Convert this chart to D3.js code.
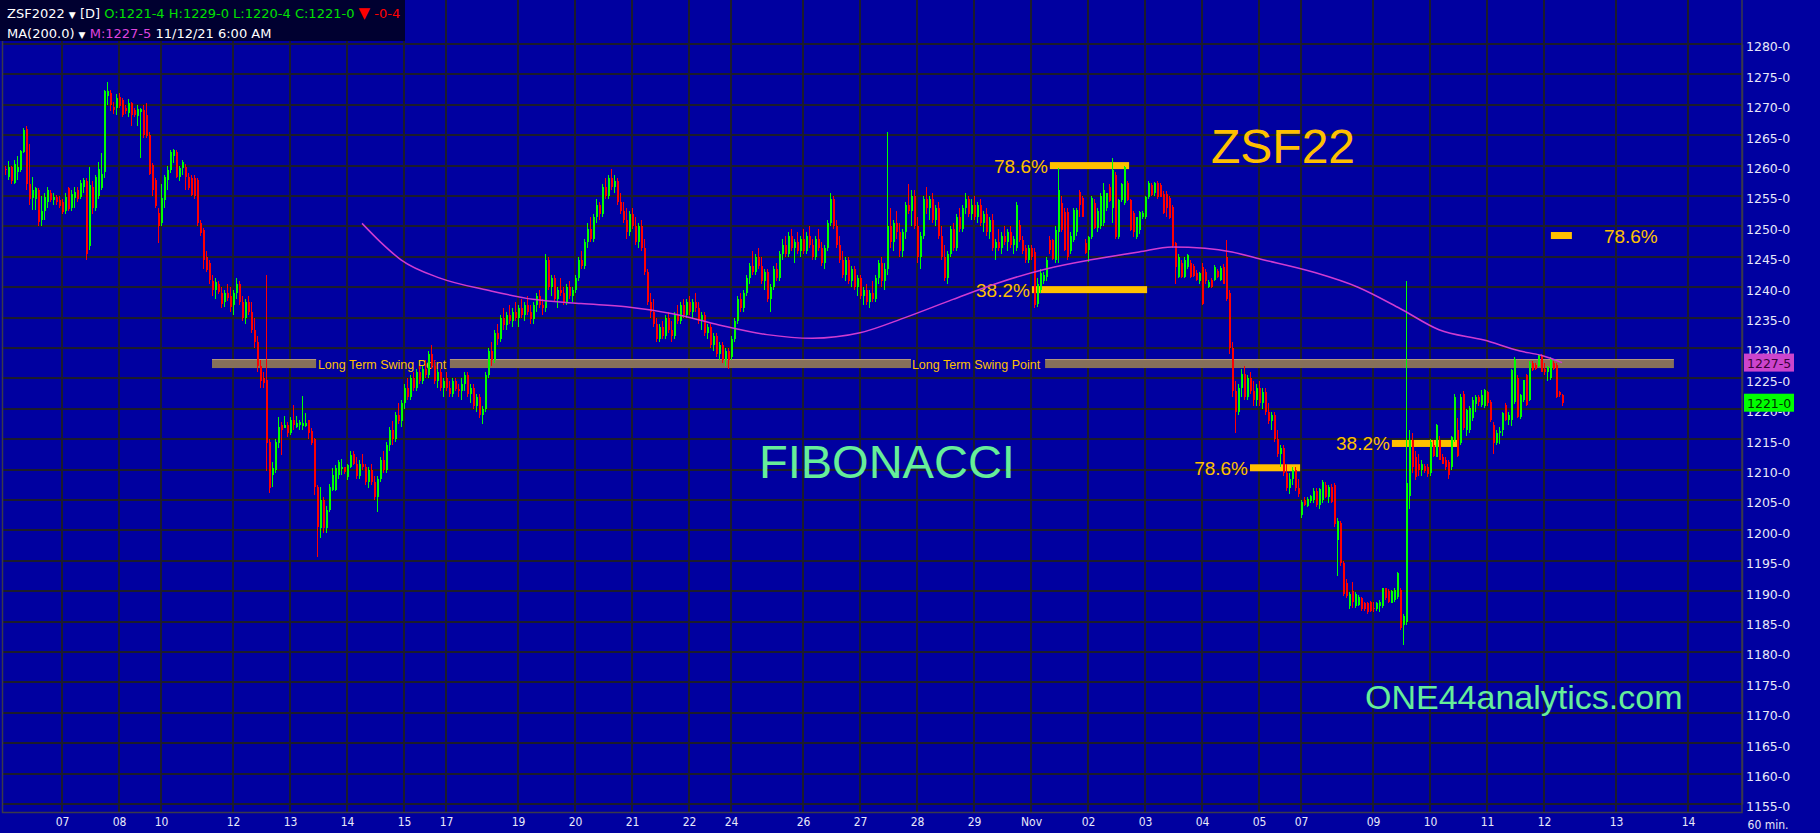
<!DOCTYPE html>
<html>
<head>
<meta charset="utf-8">
<script src="https://cdn.jsdelivr.net/npm/d3@7"></script>
<style>
  html, body { margin: 0; padding: 0; background: #0000a0; }
  svg { display: block; }
</style>
</head>
<body>
<svg id="chart" width="1820" height="833"></svg>
<script>
// hourly bars, [open, high, low, close] in cents, one array per session day
const oct06 = [[1259.5,1260,1258.5,1259.2],[1258.2,1260.8,1257.6,1259.7],[1259.7,1260,1257,1257.4],[1257.2,1261,1257,1260.3],[1259,1261.5,1257.6,1259.7],[1259.3,1262.6,1259,1262.4],[1262.3,1266.2,1262,1265.9],[1266,1266.5,1256,1257],[1257,1263.5,1253.5,1254.5],[1254.6,1258.2,1252.7,1256],[1254.5,1256.5,1252.7,1256.3],[1256,1256.3,1250,1250.8],[1251,1255,1250,1252.5],[1252.5,1255.5,1251,1254.8],[1254,1256.5,1253,1256],[1255.5,1256,1254,1254.4],[1254.4,1255.5,1253.5,1254.8],[1254.8,1255.2,1253.5,1254],[1254.4,1255,1253,1253.4]];
const oct07 = [[1254,1254.5,1252,1252.4],[1252.6,1255.5,1252,1254.9],[1256.3,1256.5,1252.5,1252.8],[1253,1256,1252.5,1255.4],[1254.6,1256.5,1253,1255.7],[1256,1256.5,1254,1254.5],[1254.9,1257.6,1254.5,1257.2],[1256.5,1258,1255.5,1257.6],[1257.4,1258,1244.5,1245.5],[1246.7,1259.8,1246.1,1256.8],[1256.5,1257.5,1252,1253],[1253,1258.5,1252.5,1258.2],[1255,1260.6,1254.5,1259.5],[1256.3,1262,1256,1258.7],[1259,1272.5,1258,1272.2],[1271.5,1273.8,1270,1272.2],[1272,1272.5,1269,1270],[1269.7,1270.5,1268.5,1269.2],[1269.4,1271.8,1268.4,1271.1]];
const oct08 = [[1271.3,1272,1269.5,1269.8],[1270.8,1271.2,1268,1268.3],[1269.5,1270,1268.5,1268.9],[1268.6,1271,1268,1270.3],[1270.3,1270.5,1266.5,1268.3],[1269.1,1269.5,1268,1268.3],[1268.2,1270,1266.5,1269.3],[1268.8,1269.5,1261.2,1269.3],[1269.2,1270,1264.5,1265],[1268.3,1270.3,1264.5,1264.8],[1265,1265.5,1258.5,1258.7],[1260.1,1260.5,1255,1256],[1257.6,1258,1253,1253.3],[1252.2,1253,1247.2,1250]];
const oct10 = [[1250.5,1257,1250,1254.6],[1254.4,1258.5,1253,1258.2],[1257.6,1260,1256,1259.3],[1259.3,1262.5,1258.8,1262.3],[1261.5,1262.8,1260.5,1262.5]];
const oct11 = [[1262.3,1262.5,1258,1258.2],[1258.2,1260,1257.5,1259.6],[1259.6,1261,1258.5,1260.6],[1259.8,1260.2,1256,1258.2],[1258.2,1258.8,1256,1256.3],[1258,1258.5,1255,1255.2],[1258,1258.5,1254.5,1255],[1257.6,1258,1250,1250.5],[1250.5,1251,1248.5,1248.9],[1249.4,1249.8,1243,1244.5],[1245,1246,1242.5,1242.8],[1243.9,1244.5,1240.5,1241.2],[1241,1242,1238.5,1239.5],[1239.5,1241.5,1238,1240.8],[1240.5,1241,1238.8,1239.2],[1239,1240,1236.5,1237.2],[1237.5,1239.5,1236.8,1239],[1239,1240.5,1237.8,1238.2],[1238.5,1240,1236,1236.8]];
const oct12 = [[1237,1239.5,1235.5,1239],[1239,1241.5,1238,1240.5],[1240.5,1241,1237,1237.5],[1237.5,1238.5,1234.5,1235],[1235,1238,1234,1237.5],[1237.5,1238.5,1235.5,1236],[1236,1237.5,1232.5,1233],[1233,1235,1230,1231],[1231,1232,1226,1227],[1227,1228,1223.5,1224.5],[1225,1226,1223.5,1224.2],[1224.7,1242,1209.7,1214.3],[1214.6,1215,1206.1,1207],[1209.1,1211.3,1207.2,1210.2],[1209.9,1215,1209.5,1214.6],[1214.3,1218.7,1213.5,1217],[1217.3,1217.9,1212.4,1216.5],[1216.8,1218.8,1216.8,1217.3],[1217.3,1217.9,1215.4,1216]];
const oct13 = [[1216,1218.6,1215.7,1218.2],[1218.2,1220.6,1216.5,1217.3],[1217,1218.8,1216.8,1217.6],[1217.3,1218.2,1216.5,1217.8],[1217.2,1222.1,1216.5,1217.6],[1217.2,1219.3,1217,1217.6],[1218.2,1218.2,1215,1216],[1216.3,1216.8,1214,1214.4],[1215.1,1215.2,1205.8,1207.2],[1207.2,1207.5,1195.7,1200.6],[1200.4,1207.2,1198.7,1205],[1205,1205.5,1199.5,1200.4],[1200.4,1204,1199.5,1203.4],[1203.4,1207.7,1203,1207.2],[1206.6,1210.2,1206.5,1209.1],[1206.6,1210.8,1206.4,1210.2],[1209.1,1211.5,1208.5,1211.3],[1210.2,1211.8,1209.1,1210.4],[1210.4,1210.5,1209.3,1209.6]];
const oct14 = [[1208.8,1211,1208.3,1210.8],[1210.5,1213,1210.2,1212.4],[1212.6,1213,1210.8,1211],[1211,1212,1208.5,1209],[1209,1211.5,1208.5,1211],[1211,1212.5,1210,1210.5],[1210.5,1211,1207.5,1208],[1208,1210.5,1207,1210],[1210,1211,1207.5,1208],[1208,1209,1205,1205.5],[1205.5,1209,1203,1208.5],[1208.5,1212,1208,1211.5],[1211.5,1213,1209.5,1210],[1210,1214.5,1209.5,1214],[1214,1217,1213,1216.5],[1216.5,1218,1214,1215],[1215,1219.5,1214.5,1219],[1219,1221,1217.5,1218],[1218,1221.5,1217,1221]];
const oct15 = [[1221,1224,1220,1223.5],[1223.5,1225,1221.5,1222],[1222,1225.5,1221.5,1225],[1225,1226,1223,1223.5],[1223.5,1226.5,1223,1226],[1226,1227,1224,1224.5],[1224.5,1227,1224,1226.5],[1226.5,1228,1225,1225.5],[1225.5,1229.5,1225,1229],[1229,1230.5,1226.5,1227],[1227,1228,1224,1224.5],[1224.5,1226.5,1223.5,1226],[1226,1226.5,1223,1223.5],[1223.5,1225,1222,1224.5]];
const oct17 = [[1225,1226,1223,1223.5],[1223.5,1224.5,1222,1222.5],[1222.5,1225,1222,1224.5],[1224.5,1225,1223,1223.2],[1223.2,1224,1222,1223]];
const oct18 = [[1223,1225,1221.5,1224],[1224,1226,1223,1225.5],[1225.5,1226,1222,1222.5],[1222.5,1224,1221,1223.5],[1223.5,1224,1220,1220.5],[1220.5,1222.5,1219.5,1222],[1222,1222.5,1218.5,1219],[1219,1220.5,1217.5,1220],[1220,1226,1219.5,1225.5],[1225.5,1230,1225,1229.5],[1229.5,1231,1227,1228],[1228,1233,1227.5,1232.5],[1232.5,1234,1230.5,1231.5],[1231.5,1235.5,1231,1235],[1235,1236.5,1233,1233.8],[1233.8,1236,1233,1235.5],[1235.5,1237,1234,1234.5],[1234.5,1236.5,1233.5,1236],[1236,1237.5,1234.5,1235]];
const oct19 = [[1235,1237,1233.5,1236.5],[1236.5,1238,1235,1235.5],[1235.5,1237.5,1234.5,1237],[1237,1238.5,1235.5,1236],[1236,1237,1234,1234.8],[1234.8,1237.5,1234,1237],[1237,1239,1236,1238.5],[1238.5,1239.5,1236.5,1237],[1237,1238,1235.5,1236.5],[1236.5,1245.5,1236,1244.5],[1244.5,1245,1239.5,1240],[1240,1242,1238.5,1241.5],[1241.5,1242,1237.5,1238],[1238,1240,1236.5,1239.5],[1239.5,1241.5,1238.5,1239],[1239,1240,1237,1237.5],[1237.5,1240.5,1237,1240],[1240,1241,1238,1238.5],[1238.5,1240,1237.5,1239.5]];
const oct20 = [[1239.5,1242,1239,1241.5],[1241.5,1245,1241,1244.5],[1244.5,1246,1243,1243.5],[1243.5,1248,1243,1247.5],[1247.5,1250.5,1246.5,1249.5],[1249.5,1251.5,1247.5,1248],[1248,1252,1247.5,1251.5],[1251.5,1254.5,1250.5,1253.5],[1253.5,1254,1251,1252],[1252,1257,1251.5,1256.5],[1256.5,1258,1254.5,1255],[1255,1258.5,1254.5,1258],[1258,1259.5,1256,1256.5],[1256.5,1258.5,1255.5,1257.5],[1257.5,1258,1253.5,1254],[1254,1255.5,1252,1252.5],[1252.5,1254,1250.5,1251],[1251,1253,1248,1249],[1249,1252.5,1248.5,1252]];
const oct21 = [[1252,1253,1249.5,1250],[1250,1251.5,1247,1247.5],[1247.5,1250.5,1246.5,1250],[1250,1251,1246,1246.5],[1246.5,1248,1242,1242.5],[1242.5,1243,1237,1237.5],[1237.5,1239,1235,1236],[1236,1238,1233.5,1234],[1234,1235,1231,1231.5],[1231.5,1234,1231,1233.5],[1233.5,1234.5,1231.5,1232],[1232,1235.5,1231.5,1235],[1235,1236,1232.5,1233],[1233,1234.5,1231,1232],[1232,1236,1231.5,1235.5],[1235.5,1237,1234,1234.5],[1234.5,1237.5,1234,1237],[1237,1238,1235,1235.5],[1235.5,1238,1235,1237.5]];
const oct22 = [[1237.5,1238.5,1235.5,1236],[1236,1238,1235,1237.5],[1237.5,1239,1236,1236.5],[1236.5,1237.5,1234,1234.5],[1234.5,1236,1233,1235.5],[1235.5,1236,1232,1232.5],[1232.5,1234,1231.5,1233.5],[1233.5,1234,1230,1230.5],[1230.5,1232.5,1229.5,1232],[1232,1232.5,1228.5,1229],[1229,1231,1228,1230.5],[1230.5,1231,1227.5,1228],[1228,1230,1227,1229.5],[1229.5,1230,1226.5,1228]];
const oct24 = [[1228.5,1232,1228,1231.5],[1231.5,1235,1231,1234.5],[1234.5,1238.5,1234,1238],[1238,1239,1236,1236.5],[1236.5,1239.5,1236,1239]];
const oct25 = [[1239,1242,1238.5,1241.5],[1241.5,1244,1240.5,1243.5],[1243.5,1246,1242,1242.5],[1242.5,1245.5,1242,1245],[1245,1246.5,1243,1243.5],[1243.5,1245,1240.5,1241],[1241,1243,1239.5,1242.5],[1242.5,1243,1237.5,1238],[1238,1240.5,1236,1240],[1240,1243.5,1239.5,1243],[1243,1244,1241,1241.5],[1241.5,1246,1241,1245.5],[1245.5,1248,1244.5,1247],[1247,1248.5,1245,1245.5],[1245.5,1249,1245,1248.5],[1248.5,1249.5,1246,1246.5],[1246.5,1248,1244,1247.5],[1247.5,1249,1245.5,1246],[1246,1248.5,1245,1248]];
const oct26 = [[1248,1249.5,1245.5,1246],[1246,1249,1245.5,1248.5],[1248.5,1250,1246.5,1247],[1247,1248,1244.5,1245],[1245,1248.5,1244.5,1248],[1248,1249.5,1246,1246.5],[1246.5,1247.5,1243.5,1244],[1244,1247,1243,1246.5],[1246.5,1251,1246,1250.5],[1250.5,1255.5,1250,1254.5],[1254.5,1255,1249.5,1250],[1250,1251,1246.5,1247],[1247,1248.5,1244,1244.5],[1244.5,1246,1241.5,1242],[1242,1245,1241,1244.5],[1244.5,1245,1240.5,1241],[1241,1243.5,1240,1243],[1243,1243.5,1239.5,1240],[1240,1242,1238.5,1241.5]];
const oct27 = [[1241.5,1242,1238,1238.5],[1238.5,1240,1237,1239.5],[1239.5,1240.5,1237,1237.5],[1237.5,1239.5,1236.5,1239],[1239,1241,1237.5,1238],[1238,1242,1237.5,1241.5],[1241.5,1244.5,1240.5,1244],[1244,1245,1240,1241],[1241,1244,1239.5,1243],[1243,1265.5,1242,1250],[1250,1253,1246.5,1247.5],[1247.5,1251,1246,1250.5],[1250.5,1252.5,1248,1249],[1249,1250.5,1245,1246],[1246,1249.5,1245,1249],[1249,1254,1248,1253.5],[1253.5,1257,1252,1252.5],[1252.5,1256,1250,1255],[1255,1256,1249.5,1250]];
const oct28 = [[1250,1251.5,1244,1245],[1245,1249,1243,1248.5],[1248.5,1255,1248,1254.5],[1254.5,1256.5,1252,1253],[1253,1255,1251,1254.5],[1254.5,1255.5,1250.5,1251],[1251,1253.5,1250,1253],[1253,1254,1248,1248.5],[1248.5,1250,1244.5,1245],[1245,1247,1241,1241.5],[1241.5,1246,1240.5,1245.5],[1245.5,1250,1245,1249.5],[1249.5,1250.5,1246,1246.5],[1246.5,1252,1246,1251.5],[1251.5,1253,1249,1249.5],[1249.5,1253.5,1249,1253],[1253,1255.5,1252,1254.5],[1254.5,1255,1251.5,1252],[1252,1254.5,1251,1253.5]];
const oct29 = [[1253.5,1255,1251,1251.5],[1251.5,1254,1250.5,1253.5],[1253.5,1254.5,1250,1250.5],[1250.5,1252.5,1249,1252],[1252,1253,1248.5,1249],[1249,1251.5,1248,1251],[1251,1252,1246,1246.5],[1246.5,1248,1244.5,1247.5],[1247.5,1249.5,1246,1246.5],[1246.5,1249,1245.5,1248.5],[1248.5,1250,1247,1247.5],[1247.5,1249.5,1246,1249],[1249,1250,1246.5,1247],[1247,1248.5,1245.5,1248]];
const oct31 = [[1246.5,1254,1246,1253.5],[1250.2,1251,1247.5,1247.8],[1247.8,1248.5,1245.5,1246],[1246.5,1247,1244,1244.5],[1244.5,1247,1244,1246.5]];
const nov01 = [[1246.5,1247,1244.5,1245],[1245.8,1246.5,1236.5,1237],[1237.3,1241.5,1236.8,1240.5],[1239.5,1243,1239,1242.3],[1241,1242.5,1240.5,1242],[1241.7,1245,1241,1244.5],[1247.8,1248.5,1245.5,1246.1],[1247.8,1248,1244.5,1244.6],[1244.5,1250,1244,1249.4],[1249,1259.6,1244,1256],[1253.8,1255,1249,1249.4],[1252.4,1253,1246,1246.1],[1252.4,1253,1244.5,1245],[1246,1249,1245.5,1248.5],[1247.8,1253,1247.5,1252.7],[1249,1253,1248.5,1252.7],[1255.7,1256,1251.5,1253.5],[1254.6,1255,1251.5,1251.6],[1247.2,1248,1245.5,1245.6]];
const nov02 = [[1246.1,1248.5,1244.2,1248.3],[1248.3,1255,1248,1254.6],[1253.8,1254.5,1249.5,1249.7],[1249.7,1253,1249,1252.5],[1250,1255.5,1249.5,1255],[1250.5,1257.1,1250,1256],[1253,1255.5,1252.5,1255.5],[1256.5,1257,1254,1254.1],[1253,1261.2,1250.5,1259.2],[1258.5,1259,1248,1248.2],[1248.3,1254.5,1248,1254.3],[1254.4,1257.2,1254,1257],[1253.8,1260,1253.5,1259.8],[1257.1,1257.5,1254.2,1254.3],[1254.3,1254.5,1249.2,1249.4],[1252.2,1252.5,1248.3,1249.1],[1248.3,1251.5,1248,1251.6],[1249.4,1252.5,1248.8,1252.4],[1251.6,1252.5,1251.2,1252.2]];
const nov03 = [[1251.6,1255,1251.2,1254.9],[1254.9,1257.5,1254.5,1257.1],[1256.8,1257.2,1255,1255.2],[1255.5,1257.3,1255,1257.1],[1257.1,1257.5,1254.5,1254.8],[1256.8,1257.2,1254.8,1254.9],[1255.4,1255.8,1252,1252.2],[1255.4,1255.8,1251.5,1253],[1254.6,1255,1251.2,1251.3],[1253.2,1253.5,1246.5,1246.7],[1247.2,1247.5,1240.6,1243.4],[1241.7,1245.5,1241.5,1245],[1244,1244.5,1241.5,1241.7],[1241.7,1245,1241.5,1244.5],[1243.4,1245.5,1243,1245.3],[1244,1244.5,1241.5,1241.7],[1243.5,1243.8,1241.6,1241.8],[1242.3,1242.8,1241,1241.2],[1241,1242.5,1240.5,1242.3]];
const nov04 = [[1243.4,1244,1237,1237.3],[1242.5,1243,1240.5,1241],[1240.1,1241.2,1239.8,1240.9],[1241.2,1241.5,1239.8,1240.1],[1241.2,1243.6,1241,1243.4],[1242.6,1243,1241.5,1241.7],[1241.2,1243.5,1241,1243.1],[1243.3,1243.8,1240.5,1240.6],[1245,1247.8,1237.8,1238],[1239,1239.5,1229,1230],[1230,1231,1222,1223],[1223,1224.5,1216,1219.5],[1219.5,1224,1219,1223.5],[1223.5,1226.5,1222,1225.8],[1225.8,1227,1221.5,1222],[1222,1225.5,1221.5,1225],[1225,1226,1222.5,1223],[1223,1224.5,1220.5,1221.5],[1221.5,1224,1220.5,1223.5]];
const nov05 = [[1223.5,1224.5,1220.5,1221],[1221,1223.5,1220,1222.8],[1222.8,1223.5,1219,1219.5],[1219.5,1221,1217.5,1218],[1218,1219.5,1216.5,1219],[1219,1219.5,1214.5,1215],[1215,1216.5,1212,1212.5],[1212.5,1214,1210.5,1213.5],[1213.5,1214,1209,1209.5],[1209.5,1211,1206.5,1207],[1207,1209.5,1206,1208.5],[1208.5,1210.5,1207.5,1210],[1210,1210.5,1206.5,1207],[1207,1208.5,1205.5,1206]];
const nov07 = [[1202.5,1205,1202,1204.7],[1205,1205.5,1204,1204.2],[1204,1205.5,1203.8,1205.2],[1204.8,1205.8,1204.5,1205.6],[1205,1207,1204.5,1206.4]];
const nov08 = [[1206.4,1207,1203.8,1204.2],[1204.2,1207,1203.5,1206.8],[1205,1208.3,1204.5,1208],[1207.5,1208,1205.3,1205.5],[1205.5,1207.5,1204.5,1207.2],[1207.2,1207.7,1204.5,1204.7],[1207.5,1207.8,1200.6,1201],[1198.5,1202,1192.5,1201.5],[1201.2,1201.5,1194.2,1194.6],[1194.6,1195,1189.2,1189.6],[1191.3,1192,1188.9,1189.2],[1187.5,1189.8,1187,1189.6],[1190,1191.5,1187.2,1188.2],[1187.5,1189.9,1187.3,1189.5],[1187.8,1189.4,1187.5,1189],[1188.8,1189,1186.8,1187],[1188,1188.2,1186.8,1187],[1188,1188.2,1186.3,1186.5],[1188.2,1188.4,1186.5,1186.8]];
const nov09 = [[1187.3,1188.2,1186.5,1187],[1187,1188.3,1186.8,1188],[1187.5,1188.5,1186.5,1188.2],[1187.5,1190.5,1187.2,1190.5],[1190.5,1190.6,1188.5,1188.8],[1190,1190.3,1188,1188.2],[1188,1190.2,1188,1190],[1188.5,1190.5,1188.3,1190.2],[1189,1193.2,1188.7,1193],[1190.2,1190.5,1183.6,1184],[1184.5,1186.2,1181.2,1186],[1185,1241,1184.5,1207.8],[1205.6,1216.5,1203.5,1214.9],[1214.9,1216,1209.5,1210.5],[1212,1213,1208.3,1208.8],[1211,1212.5,1209,1210],[1210,1211.5,1209,1211],[1210.6,1211,1209.5,1209.8],[1210.5,1211,1208.8,1209.3]];
const nov10 = [[1209.5,1215,1209,1214.5],[1214,1214.8,1212,1212.2],[1212.1,1217.5,1212,1217.3],[1214.8,1215.5,1211.5,1211.6],[1212.1,1212.5,1211,1211],[1211.5,1212,1210,1210.5],[1211.3,1211.6,1208.5,1209.1],[1210.5,1215.6,1210,1215.4],[1214.9,1222.5,1214.5,1222],[1216.5,1218.5,1212,1212.3],[1214.4,1222.5,1214,1222],[1222.5,1223,1216.5,1216.8],[1216.5,1220,1215.5,1219.8],[1216.5,1220.5,1216,1220.2],[1218.5,1222,1218,1221.5],[1220.8,1222.2,1219.5,1222],[1222,1222.3,1220.5,1221.2],[1220.6,1223.1,1220.3,1222.3],[1220.4,1223.3,1220.2,1223.1]];
const nov11 = [[1222.8,1223,1220.5,1220.9],[1221.2,1221.5,1217.8,1218.2],[1217.3,1217.8,1212.5,1214.4],[1214.4,1216.5,1214,1216],[1216,1217,1214.2,1216.3],[1216.5,1219.5,1215.5,1219.3],[1220.6,1221,1218,1218.2],[1218.2,1219.5,1217.3,1219],[1218.2,1226.5,1217.2,1226.4],[1221.2,1228.5,1220.8,1228.2],[1225,1225.5,1218.5,1218.7],[1218.7,1222.5,1218.3,1222.3],[1221.5,1224.8,1221.2,1224.7],[1225.6,1225.8,1220.5,1220.6],[1221.5,1227.8,1221.3,1227.5],[1227.5,1227.8,1226.2,1226.4],[1227.2,1227.6,1226.3,1226.5],[1227,1229,1226.8,1228.9],[1228.9,1229,1226,1226.1]];
const nov12 = [[1226.5,1227.5,1225.5,1226],[1226,1227,1224.5,1226.8],[1225,1228.5,1224.8,1228.3],[1227.6,1227.8,1226.3,1226.5],[1227.2,1227.5,1221.8,1222],[1222.8,1223,1222,1222.2],[1222.3,1222.5,1220.5,1221]];

// 200-period moving average, read at a few bars
const maBars = [119,125,132,145,161,176,192,207,223,238,254,269,285,300,316,331,347,362,378,389,400,409,417,436,451,465,478,493,505,512,519];
const maValues = [1250.5,1247.5,1244.5,1241.5,1239.5,1238,1237.3,1236.8,1235.6,1233.8,1232.2,1231.6,1232.5,1235,1238,1240.7,1243,1244.5,1245.8,1246.6,1246.4,1245.8,1244.8,1242.5,1240,1236.5,1233,1231.3,1229.5,1228.8,1227.6];

// date axis: bar index where each labelled calendar day begins
const dateLabels = ["07","08","10","12","13","14","15","17","19","20","21","22","24","26","27","28","29","Nov","02","03","04","05","07","09","10","11","12","13","14"];
const dateBars = [19,38,52,76,95,114,133,147,171,190,209,228,242,266,285,304,323,342,361,380,399,418,432,456,475,494,513,537,561];

const priceTicks = d3.range(1155, 1281, 5);

// fibonacci retracement marks
const fibLabels = ["78.6%","38.2%","78.6%","38.2%","78.6%"];
const fibPrices = [1260, 1239.6, 1210.3, 1214.3, 1248.5];
const fibFrom = [348.3, 342.3, 415, 462.3, 515.3];
const fibTo = [374.7, 380.7, 431.7, 484, 522.3];

// long term swing point level and its drawn pieces
const swingPrice = 1227.4;
const swingFrom = [69, 148.3, 346.7];
const swingTo = [103.7, 302, 556.3];
const swingTextAt = [104.3, 302.3];

const bars = [oct06, oct07, oct08, oct10, oct11, oct12, oct13, oct14, oct15, oct17, oct18,
  oct19, oct20, oct21, oct22, oct24, oct25, oct26, oct27, oct28, oct29, oct31,
  nov01, nov02, nov03, nov04, nov05, nov07, nov08, nov09, nov10, nov11, nov12]
  .flat().map((d, i) => ({ i, o: d[0], h: d[1], l: d[2], c: d[3] }));

const fmt = p => Math.floor(p) + "-" + Math.round((p - Math.floor(p)) * 8);

const svg = d3.select("#chart");
const plotRight = 1742, plotBottom = 812;

const x = d3.scaleLinear().domain([0, 579]).range([5, 1742]);
const y = d3.scaleLinear().domain([1155, 1280]).range([804, 44]);

svg.append("rect").attr("width", 1820).attr("height", 833).attr("fill", "#0000a0");

// grid
const grid = svg.append("g").attr("stroke", "#1c1c2c").attr("stroke-width", 2).attr("shape-rendering", "crispEdges");
grid.selectAll(".hg").data(priceTicks).enter().append("line")
  .attr("x1", 3).attr("x2", plotRight).attr("y1", d => Math.round(y(d))).attr("y2", d => Math.round(y(d)));
grid.selectAll(".vg").data(dateBars).enter().append("line")
  .attr("x1", d => Math.round(x(d))).attr("x2", d => Math.round(x(d))).attr("y1", 0).attr("y2", plotBottom);

// plot frame
svg.append("rect").attr("x", 2.5).attr("y", -1).attr("width", plotRight - 2.5).attr("height", plotBottom + 1.5)
  .attr("fill", "none").attr("stroke", "#3a3a4a").attr("stroke-width", 1.5);

// swing point band
const swing = svg.append("g");
swing.selectAll("rect").data(swingFrom).enter().append("rect")
  .attr("x", d => x(d)).attr("width", (d, i) => x(swingTo[i]) - x(d))
  .attr("y", y(swingPrice + 0.7)).attr("height", y(swingPrice - 0.7) - y(swingPrice + 0.7))
  .attr("fill", "#86705a");
swing.selectAll("line").data(swingFrom).enter().append("line")
  .attr("x1", d => x(d)).attr("x2", (d, i) => x(swingTo[i]))
  .attr("y1", y(swingPrice + 0.7)).attr("y2", y(swingPrice + 0.7))
  .attr("stroke", "#b89c78").attr("stroke-width", 1);
swing.selectAll("text").data(swingTextAt).enter().append("text")
  .attr("x", d => x(d)).attr("y", y(swingPrice) + 5)
  .attr("fill", "#ffc000").attr("font-family", "Liberation Sans, Arial, sans-serif").attr("font-size", 12.5)
  .text("Long Term Swing Point");

// fibonacci lines
const fib = svg.append("g");
fib.selectAll("rect").data(fibPrices).enter().append("rect")
  .attr("x", (d, i) => x(fibFrom[i])).attr("width", (d, i) => x(fibTo[i]) - x(fibFrom[i]))
  .attr("y", d => y(d) - 3.5).attr("height", 7).attr("fill", "#ffc000");

// candles
const candles = svg.append("g").attr("shape-rendering", "crispEdges");
const col = d => d.c >= d.o ? "#00ff00" : "#ff0000";
candles.selectAll(".wick").data(bars).enter().append("rect")
  .attr("x", d => Math.round(x(d.i))).attr("width", 1)
  .attr("y", d => y(d.h)).attr("height", d => Math.max(1, y(d.l) - y(d.h)))
  .attr("fill", col);
candles.selectAll(".body").data(bars).enter().append("rect")
  .attr("x", d => Math.round(x(d.i))).attr("width", 2)
  .attr("y", d => y(Math.max(d.o, d.c))).attr("height", d => Math.max(1.5, Math.abs(y(d.o) - y(d.c))))
  .attr("fill", col);

// moving average
const ma = maBars.map((b, i) => [b, maValues[i]]);
svg.append("path").datum(ma)
  .attr("d", d3.line().x(d => x(d[0])).y(d => y(d[1])).curve(d3.curveMonotoneX))
  .attr("fill", "none").attr("stroke", "#d03cd0").attr("stroke-width", 1.5);

// fibonacci labels
fib.selectAll("text").data(fibLabels).enter().append("text")
  .attr("x", (d, i) => i === 4 ? x(fibTo[i]) + 32 : x(fibFrom[i]) - 2)
  .attr("y", (d, i) => y(fibPrices[i]) + 7)
  .attr("text-anchor", (d, i) => i === 4 ? "start" : "end")
  .attr("fill", "#ffc000").attr("font-family", "Liberation Sans, Arial, sans-serif").attr("font-size", 19)
  .text(d => d);

// big annotations
const big = svg.append("g").attr("font-family", "Liberation Sans, Arial, sans-serif");
big.append("text").attr("x", 1211).attr("y", 163).attr("font-size", 48).attr("fill", "#ffc000").text("ZSF22");
big.append("text").attr("x", 759).attr("y", 478).attr("font-size", 47).attr("fill", "#66ee99").text("FIBONACCI");
big.append("text").attr("x", 1365).attr("y", 709).attr("font-size", 34).attr("fill", "#66ee99").text("ONE44analytics.com");

// right price axis
const yAxis = svg.append("g").attr("transform", `translate(${plotRight},0)`)
  .call(d3.axisRight(y).tickValues(priceTicks).tickSize(0).tickPadding(4).tickFormat(d => d + "-0"));
yAxis.select(".domain").attr("stroke", "#3a3a4a").attr("stroke-width", 1.5);
yAxis.selectAll("text").attr("fill", "#e8e8f8").attr("font-family", "DejaVu Sans, sans-serif").attr("font-size", 12.5).attr("dy", "0.55em");

// bottom date axis
const xAxis = svg.append("g").attr("transform", `translate(0,${plotBottom})`)
  .call(d3.axisBottom(x).tickValues(dateBars).tickSize(0).tickPadding(5).tickFormat((d, i) => dateLabels[i]));
xAxis.select(".domain").remove();
xAxis.selectAll("text").attr("fill", "#e8e8f8").attr("font-family", "DejaVu Sans Condensed, DejaVu Sans, sans-serif").attr("font-size", 12);
svg.append("text").attr("x", 1768).attr("y", 829).attr("text-anchor", "middle")
  .attr("fill", "#e8e8f8").attr("font-family", "DejaVu Sans Condensed, DejaVu Sans, sans-serif").attr("font-size", 12).text("60 min.");

// last value tags
const last = bars[bars.length - 1];
const maLast = maValues[maValues.length - 1];
const tags = [[maLast, "#cc44cc", "#3a003a"], [last.c, "#00ff00", "#003300"]];
const tagG = svg.append("g").selectAll("g").data(tags).enter().append("g")
  .attr("transform", d => `translate(${plotRight + 2},${y(d[0]) - 9})`);
tagG.append("rect").attr("width", 50).attr("height", 18).attr("fill", d => d[1]);
tagG.append("text").attr("x", 3).attr("y", 14).attr("fill", d => d[2])
  .attr("font-family", "DejaVu Sans, sans-serif").attr("font-size", 12.5).text(d => fmt(d[0]));

// header box
const dayO = nov11[14][0], dayH = d3.max([...nov11.slice(14), ...nov12], d => d[1]), dayL = d3.min([...nov11.slice(14), ...nov12], d => d[2]);
const head = svg.append("g").attr("font-family", "DejaVu Sans, sans-serif").attr("font-size", 13);
head.append("rect").attr("width", 405).attr("height", 41).attr("fill", "#000030");
const l1 = head.append("text").attr("x", 7).attr("y", 18);
l1.append("tspan").attr("fill", "#ffffff").text("ZSF2022 ");
l1.append("tspan").attr("fill", "#ffffff").attr("font-size", 9).text("▼");
l1.append("tspan").attr("fill", "#ffffff").text(" [D] ");
l1.append("tspan").attr("fill", "#00e000").text(`O:${fmt(dayO)} H:${fmt(dayH)} L:${fmt(dayL)} C:${fmt(last.c)} `);
l1.append("tspan").attr("fill", "#ff0000").attr("font-size", 15).text("▼");
l1.append("tspan").attr("fill", "#ff0000").text(" -0-4");
const l2 = head.append("text").attr("x", 7).attr("y", 38);
l2.append("tspan").attr("fill", "#ffffff").text("MA(200.0) ");
l2.append("tspan").attr("fill", "#ffffff").attr("font-size", 9).text("▼");
l2.append("tspan").attr("fill", "#dd44dd").text(` M:${fmt(maLast)} `);
l2.append("tspan").attr("fill", "#ffffff").text("11/12/21 6:00 AM");
</script>
</body>
</html>
